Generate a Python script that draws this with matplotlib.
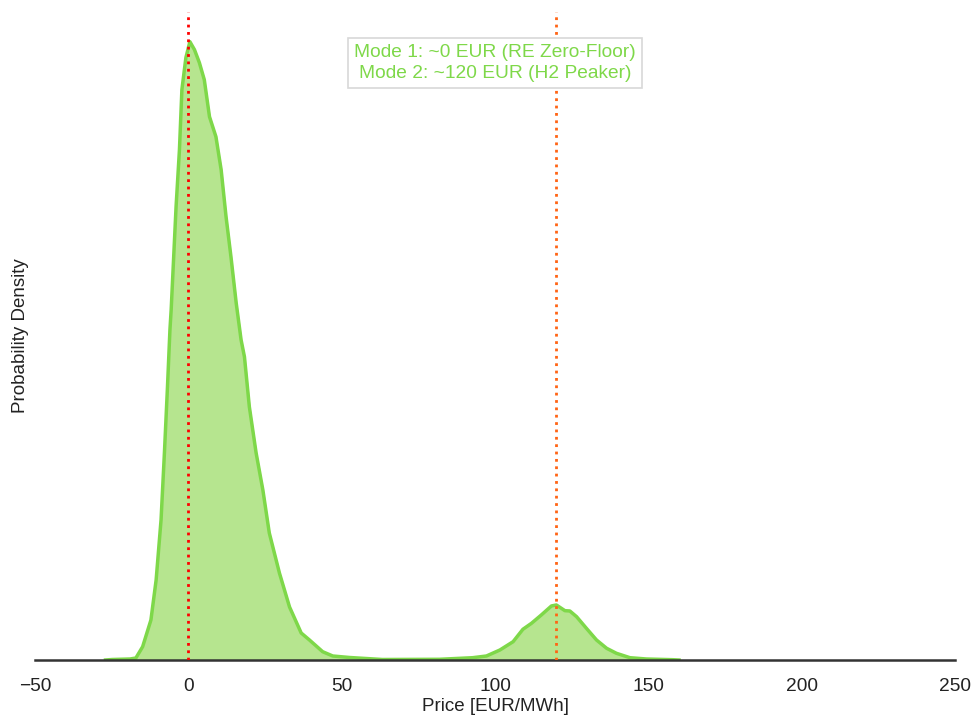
import numpy as np
import matplotlib
matplotlib.use("Agg")
import matplotlib.pyplot as plt

plt.rcParams['font.family'] = ['Liberation Sans', 'DejaVu Sans']

# Price grid (EUR/MWh) and density
price = [-27, -24.8, -19, -17.1, -14.9, -12.2, -10.5, -8.9, -7.8, -6.8, -6.0, -5.6, -4.0, -2.9, -2.1,
         -0.8, 0.5, 2.0, 3.6, 5.2, 6.9, 9.0, 10.7, 12.3, 13.9, 15.6, 17.2, 18.3, 19.9, 22.1,
         24.3, 26.4, 29.7, 33.0, 36.8, 39.5, 43.8, 47.1, 52.6, 63.3, 81.9, 92.7, 97.2, 101.6,
         105.9, 109.1, 111.9, 115.1, 118.4, 120.0, 122.8, 124.4, 126.6, 129.8, 133.1, 136.4,
         139.6, 144.0, 149.4, 158.0, 160.0]
height_px = [0.0, 0.5, 1.0, 2, 13.3, 40, 80, 140, 207, 273, 330, 350, 453, 510, 570,
             602, 618, 610, 597, 580, 543, 523, 490, 443, 403, 357, 320, 303, 253, 207,
             170, 127, 87, 53, 27, 20, 8.3, 4, 2.5, 0.5, 0.7, 2.3, 4, 10,
             18.3, 30.7, 36.7, 45, 54, 55, 49.3, 49, 43.3, 31.7, 20, 11.7,
             6.7, 2.3, 1, 0.3, 0.0]
density = [h / 618 * 0.045 for h in height_px]

mode_prices = [0, 120]
mode_colors = ['red', '#ff6414']
xticks = [-50, 0, 50, 100, 150, 200, 250]

line_col = '#7ed849'
fill_col = '#b6e58f'
text_col = '#222222'

fig = plt.figure(figsize=(9.72, 7.23), dpi=100)
ax = fig.add_axes([35/972, 1 - 660/723, 920/972, 648/723])

ax.fill_between(price, density, color=fill_col, zorder=1)
ax.plot(price, density, color=line_col, lw=2.5, zorder=2, solid_joinstyle='round')

for m, c in zip(mode_prices, mode_colors):
    ax.axvline(m, color=c, ls=':', lw=2, zorder=3)

ax.set_xlim(-50, 250)
ax.set_ylim(0, max(density) * 1.048)
ax.set_xticks(xticks)
ax.set_xticklabels([str(t).replace('-', '\u2212') for t in xticks], fontsize=13.8, color=text_col)
ax.set_yticks([])
ax.tick_params(axis='x', length=0, pad=13)
for s in ['top', 'right', 'left']:
    ax.spines[s].set_visible(False)
ax.spines['bottom'].set_color('#333333')
ax.spines['bottom'].set_linewidth(1.8)

ax.set_xlabel('Price [EUR/MWh]', fontsize=13.5, labelpad=2, color=text_col)
ax.set_ylabel('Probability Density', fontsize=13.5, labelpad=4, color=text_col)

ax.text(0.5, 0.951, 'Mode 1: ~0 EUR (RE Zero-Floor)\nMode 2: ~120 EUR (H2 Peaker)',
        transform=ax.transAxes, ha='center', va='top', fontsize=13.8, color=line_col,
        linespacing=1.32,
        bbox=dict(boxstyle='square,pad=0.32', facecolor='white', edgecolor='#d8d8d8', lw=1.2),
        zorder=5)

fig.savefig('out.png', dpi=100)
